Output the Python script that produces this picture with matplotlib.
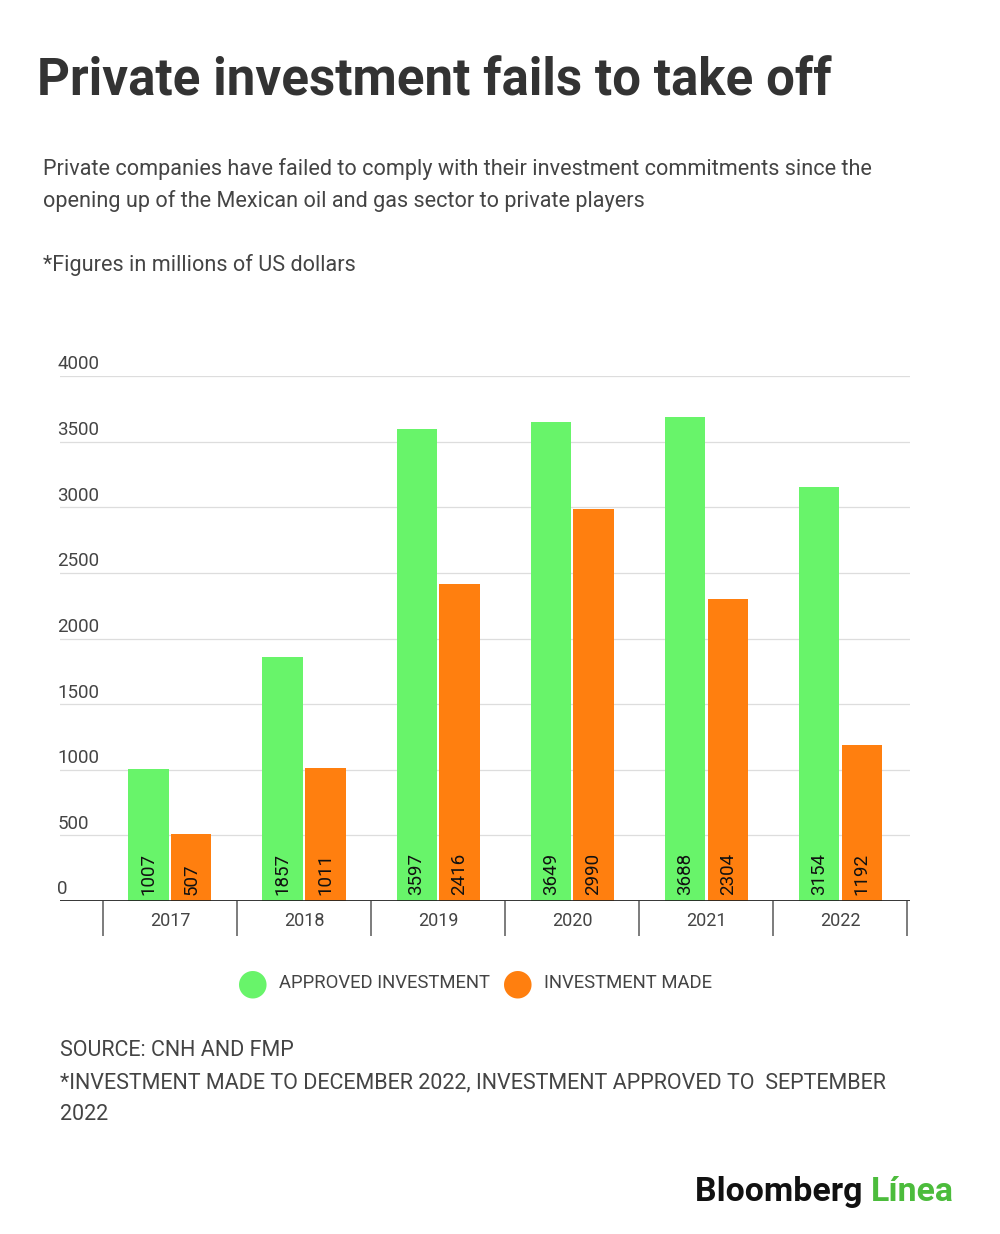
import matplotlib.pyplot as plt
import numpy as np

years = ['2017', '2018', '2019', '2020', '2021', '2022']
approved = [1007, 1857, 3597, 3649, 3688, 3154]
made = [507, 1011, 2416, 2990, 2304, 1192]
yticks = [0, 500, 1000, 1500, 2000, 2500, 3000, 3500, 4000]

GREEN = '#68f46a'
ORANGE = '#ff7f0f'
TXT = '#444444'

plt.rcParams['font.family'] = ['Roboto', 'DejaVu Sans']

W, H = 1000, 1234
fig = plt.figure(figsize=(W / 100, H / 100), dpi=100)

def fy(py):
    return 1 - py / H

ax = fig.add_axes([60 / W, fy(901), 850 / W, (901 - 376) / H])
x = np.arange(len(years))
bw = 0.30
off = 0.16
b1 = ax.bar(x - off, approved, bw, color=GREEN, zorder=3)
b2 = ax.bar(x + off, made, bw, color=ORANGE, zorder=3)

for bars, vals in ((b1, approved), (b2, made)):
    for r, v in zip(bars, vals):
        ax.text(r.get_x() + r.get_width() / 2, 45, str(v), rotation=90,
                ha='center', va='bottom', fontsize=13.5, color='#111111', zorder=4)

ax.set_xlim(-0.82, 5.52)
ax.set_ylim(0, 4000)
for t in yticks[1:]:
    ax.axhline(t, color='#dddddd', lw=0.9, zorder=1)
ax.axhline(0, color='#222222', lw=2, zorder=5)

for s in ax.spines.values():
    s.set_visible(False)
ax.set_yticks([])
for t in yticks:
    ax.text(-0.84, t + 20, str(t), ha='left', va='bottom', fontsize=13.5, color=TXT)

ax.set_xticks(x)
ax.set_xticklabels(years, fontsize=13, color=TXT)
ax.tick_params(axis='x', which='major', length=0, pad=8)
ax.set_xticks(np.arange(-0.5, 6.0, 1.0), minor=True)
ax.tick_params(axis='x', which='minor', length=25, width=1.2, color='#666666')

fig.text(37 / W, fy(81), 'Private investment fails to take off', fontsize=36.8,
         fontweight='bold', color='#333333', va='center', ha='left')
fig.text(43 / W, fy(169), 'Private companies have failed to comply with their investment commitments since the',
         fontsize=15.6, color=TXT, va='center')
fig.text(43 / W, fy(201), 'opening up of the Mexican oil and gas sector to private players',
         fontsize=15.6, color=TXT, va='center')
fig.text(43 / W, fy(265), '*Figures in millions of US dollars', fontsize=15.6, color=TXT, va='center')

# legend
fig.text(253 / W, fy(984), '\u25cf', fontsize=26, color=GREEN, ha='center', va='center')
fig.text(279 / W, fy(983), 'APPROVED INVESTMENT', fontsize=13.3, color=TXT, va='center')
fig.text(518 / W, fy(984), '\u25cf', fontsize=26, color=ORANGE, ha='center', va='center')
fig.text(544 / W, fy(983), 'INVESTMENT MADE', fontsize=13.3, color=TXT, va='center')

fig.text(60 / W, fy(1051), 'SOURCE: CNH AND FMP', fontsize=15.5, color=TXT, va='center')
fig.text(60 / W, fy(1083), '*INVESTMENT MADE TO DECEMBER 2022, INVESTMENT APPROVED TO  SEPTEMBER',
         fontsize=15.5, color=TXT, va='center')
fig.text(60 / W, fy(1114), '2022', fontsize=15.5, color=TXT, va='center')

t1 = fig.text(695 / W, fy(1192), 'Bloomberg ', fontsize=24.4, fontweight='bold',
              color='#111111', va='center')
fig.canvas.draw()
bb = t1.get_window_extent()
fig.text(bb.x1 / W, fy(1192), 'Línea', fontsize=24.4, fontweight='bold',
         color='#4cbc3c', va='center')

fig.savefig('out.png', dpi=100, facecolor='white')
